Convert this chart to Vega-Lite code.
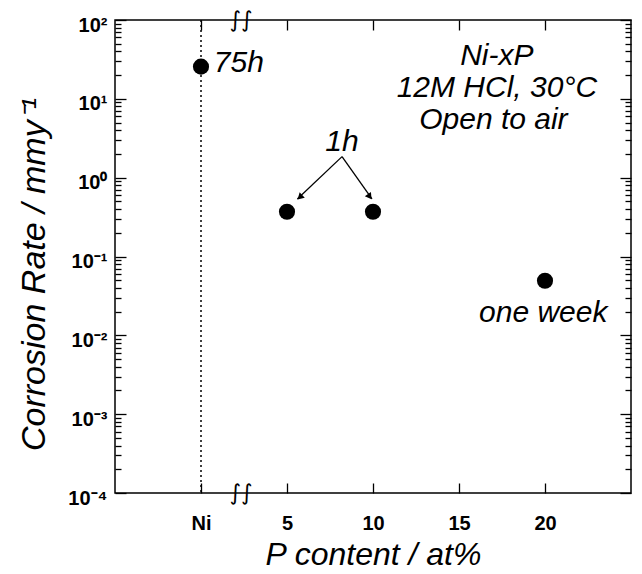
{
  "$schema": "https://vega.github.io/schema/vega-lite/v6.json",
  "width": 516,
  "height": 473,
  "autosize": "none",
  "padding": {"left": 115, "top": 20, "right": 11, "bottom": 81},
  "background": "white",
  "config": {
    "view": {"stroke": "black", "strokeWidth": 1.5},
    "font": "Liberation Sans",
    "axis": {"domain": false, "grid": false, "tickColor": "black", "tickWidth": 1.3, "labelColor": "black", "titleColor": "black"}
  },
  "datasets": {
    "points": [
      {"x": 0, "y": 25.6},
      {"x": 5, "y": 0.37},
      {"x": 10, "y": 0.37},
      {"x": 20, "y": 0.0493}
    ],
    "notes": [
      {"x": 2.2, "y": 21.9, "text": "75h"},
      {"x": 8.2, "y": 2.15, "text": "1h"},
      {"x": 19.9, "y": 0.01476, "text": "one week"},
      {"x": 17.2, "y": 26.9, "text": "Ni-xP"},
      {"x": 17.2, "y": 10.5, "text": "12M HCl, 30°C"},
      {"x": 17.0, "y": 4.14, "text": "Open to air"}
    ],
    "breaks": [
      {"x": 2.33, "y": 100, "text": "∫∫"},
      {"x": 2.33, "y": 0.0001, "text": "∫∫"}
    ],
    "arrows": [
      {"x": 8.2, "y": 1.85, "x2": 5.6, "y2": 0.537},
      {"x": 8.2, "y": 1.85, "x2": 9.94, "y2": 0.537}
    ],
    "heads": [
      {"x": 5.75, "y": 0.565, "angle": 226},
      {"x": 9.81, "y": 0.574, "angle": 145}
    ],
    "ni": [{"x": 0}]
  },
  "resolve": {"axis": {"x": "independent", "y": "independent"}},
  "layer": [
    {
      "data": {"name": "ni"},
      "mark": {"type": "rule", "strokeDash": [2, 3], "strokeWidth": 1.5, "color": "black"},
      "encoding": {
        "x": {"field": "x", "type": "quantitative", "scale": {"domain": [-5, 25], "nice": false, "zero": false}, "axis": null}
      }
    },
    {
      "data": {"name": "points"},
      "mark": {"type": "point", "filled": true, "shape": "circle", "size": 260, "color": "black", "opacity": 1},
      "encoding": {
        "x": {
          "field": "x", "type": "quantitative",
          "scale": {"domain": [-5, 25], "nice": false, "zero": false},
          "axis": {
            "orient": "bottom",
            "values": [0, 5, 10, 15, 20],
            "labelExpr": "datum.value == 0 ? 'Ni' : datum.label",
            "tickSize": -10,
            "labelPadding": 30,
            "labelFont": "Liberation Sans",
            "labelFontSize": 20,
            "labelFontWeight": "bold",
            "title": "P content / at%",
            "titleFont": "Liberation Sans",
            "titleFontSize": 32,
            "titleFontStyle": "italic",
            "titleFontWeight": "normal",
            "titlePadding": 6
          }
        },
        "y": {
          "field": "y", "type": "quantitative",
          "scale": {"type": "log", "domain": [0.0001, 100], "nice": false},
          "axis": {
            "orient": "left",
            "values": [0.0001,0.0002,0.0003,0.0004,0.0005,0.0006,0.0007,0.0008,0.0009,0.001,0.002,0.003,0.004,0.005,0.006,0.007,0.008,0.009,0.01,0.02,0.03,0.04,0.05,0.06,0.07,0.08,0.09,0.1,0.2,0.3,0.4,0.5,0.6,0.7,0.8,0.9,1,2,3,4,5,6,7,8,9,10,20,30,40,50,60,70,80,90,100],
            "labelExpr": "abs(log(datum.value)/LN10 - round(log(datum.value)/LN10)) < 0.001 ? ['10⁻⁴','10⁻³','10⁻²','10⁻¹','10⁰','10¹','10²'][round(log(datum.value)/LN10)+4] : ''",
            "tickSize": {"condition": {"test": "abs(log(datum.value)/LN10 - round(log(datum.value)/LN10)) < 0.001", "value": -11}, "value": -6},
            "labelPadding": 19,
            "labelOffset": 5,
            "labelBaseline": "middle",
            "labelFont": "Liberation Sans",
            "labelFontSize": 20,
            "labelFontWeight": "bold",
            "labelOverlap": false,
            "title": "Corrosion Rate / mmy⁻¹",
            "titleFont": "Liberation Sans",
            "titleFontSize": 34,
            "titleFontStyle": "italic",
            "titleFontWeight": "normal",
            "titlePadding": 16,
            "titleY": 254
          }
        }
      }
    },
    {
      "data": {"name": "points"},
      "mark": {"type": "point", "opacity": 0},
      "encoding": {
        "x": {
          "field": "x", "type": "quantitative",
          "scale": {"domain": [-5, 25], "nice": false, "zero": false},
          "axis": {"orient": "top", "values": [0, 5, 10, 15, 20], "labels": false, "tickSize": -10, "title": null}
        },
        "y": {
          "field": "y", "type": "quantitative",
          "scale": {"type": "log", "domain": [0.0001, 100], "nice": false},
          "axis": {
            "orient": "right",
            "values": [0.0001,0.0002,0.0003,0.0004,0.0005,0.0006,0.0007,0.0008,0.0009,0.001,0.002,0.003,0.004,0.005,0.006,0.007,0.008,0.009,0.01,0.02,0.03,0.04,0.05,0.06,0.07,0.08,0.09,0.1,0.2,0.3,0.4,0.5,0.6,0.7,0.8,0.9,1,2,3,4,5,6,7,8,9,10,20,30,40,50,60,70,80,90,100],
            "labels": false,
            "tickSize": {"condition": {"test": "abs(log(datum.value)/LN10 - round(log(datum.value)/LN10)) < 0.001", "value": -11}, "value": -6},
            "title": null
          }
        }
      }
    },
    {
      "data": {"name": "arrows"},
      "mark": {"type": "rule", "color": "black", "strokeWidth": 1.3},
      "encoding": {
        "x": {"field": "x", "type": "quantitative", "axis": null},
        "y": {"field": "y", "type": "quantitative", "axis": null},
        "x2": {"field": "x2"},
        "y2": {"field": "y2"}
      }
    },
    {
      "data": {"name": "heads"},
      "mark": {"type": "point", "shape": "triangle-up", "filled": true, "color": "black", "size": 55, "opacity": 1},
      "encoding": {
        "x": {"field": "x", "type": "quantitative", "axis": null},
        "y": {"field": "y", "type": "quantitative", "axis": null},
        "angle": {"field": "angle", "type": "quantitative", "scale": null}
      }
    },
    {
      "data": {"name": "notes"},
      "mark": {"type": "text", "font": "Liberation Sans", "fontSize": 30, "fontStyle": "italic", "align": "center", "baseline": "alphabetic", "color": "black"},
      "encoding": {
        "x": {"field": "x", "type": "quantitative", "axis": null},
        "y": {"field": "y", "type": "quantitative", "axis": null},
        "text": {"field": "text"}
      }
    },
    {
      "data": {"name": "breaks"},
      "mark": {"type": "text", "font": "DejaVu Sans", "fontSize": 22, "fontStyle": "italic", "align": "center", "baseline": "middle", "color": "black"},
      "encoding": {
        "x": {"field": "x", "type": "quantitative", "axis": null},
        "y": {"field": "y", "type": "quantitative", "axis": null},
        "text": {"field": "text"}
      }
    }
  ]
}
